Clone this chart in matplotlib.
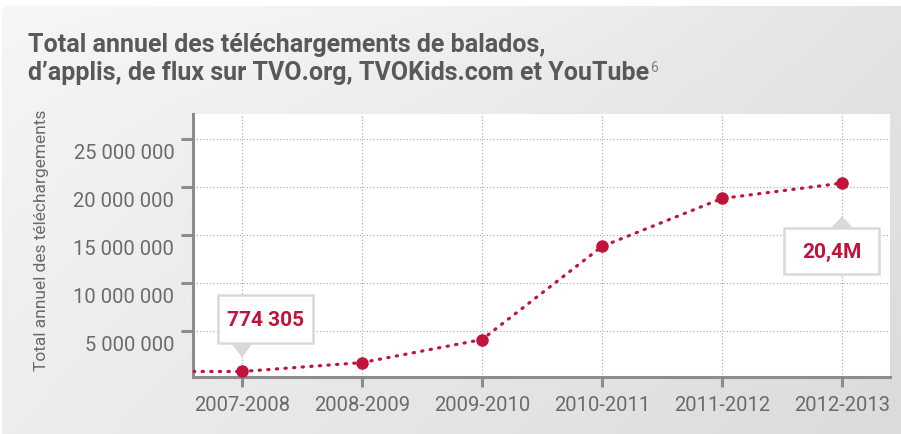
import numpy as np
import matplotlib.pyplot as plt
from matplotlib import transforms
from matplotlib.patches import Polygon, Rectangle, FancyBboxPatch


periods = [
    "2007-2008",
    "2008-2009",
    "2009-2010",
    "2010-2011",
    "2011-2012",
    "2012-2013",
]

downloads = [
    774305,
    1700000,
    4100000,
    13800000,
    18800000,
    20400000,
]

y_ticks = [5000000, 10000000, 15000000, 20000000, 25000000]

y_tick_labels = [
    "5 000 000",
    "10 000 000",
    "15 000 000",
    "20 000 000",
    "25 000 000",
]

first_label = "774 305"
last_label = "20,4M"

title_lines = [
    "Total annuel des téléchargements de balados,",
    "d’applis, de flux sur TVO.org, TVOKids.com et YouTube",
]
title_note = "6"

y_label = "Total annuel des téléchargements"

output_file = "out.png"

red = "#c0143c"
axis_grey = "#8c8c8c"
text_grey = "#6a6a6a"
title_grey = "#58595b"
box_grey = "#d9d9d9"

W, H = 901, 435


def px_x(x):
    return x / W


def px_y(y):
    return 1 - y / H


def callout(fig, ax, x, y, text, box, tip):
    '''
    draw a white label box with a small grey pointer, offsets in pixels
    relative to the data point (x, y), y upward
    '''
    trans = fig.dpi_scale_trans + transforms.ScaledTranslation(
        x, y, ax.transData
    )

    x0, x1, y0, y1 = [v / 100 for v in box]
    base_y, apex_y, half = [v / 100 for v in tip]

    ax.add_patch(
        Polygon(
            [(-half, base_y), (half, base_y), (0, apex_y)],
            closed=True,
            facecolor=box_grey,
            edgecolor="none",
            transform=trans,
            clip_on=False,
            zorder=5,
        )
    )

    ax.add_patch(
        Rectangle(
            (x0, y0),
            x1 - x0,
            y1 - y0,
            facecolor="white",
            edgecolor=box_grey,
            linewidth=1.8,
            transform=trans,
            clip_on=False,
            zorder=6,
        )
    )

    ax.text(
        (x0 + x1) / 2,
        (y0 + y1) / 2,
        text,
        transform=trans,
        ha="center",
        va="center",
        fontsize=15,
        fontweight="bold",
        color=red,
        family="Roboto",
        zorder=7,
    )


def main():

    fig = plt.figure(figsize=(W / 100, H / 100), dpi=100)

    # grey gradient panel behind everything
    bg = fig.add_axes([0, 0, 1, 1], zorder=-1)
    bg.set_xlim(0, W)
    bg.set_ylim(H, 0)
    bg.axis("off")

    gx, gy = np.meshgrid(np.linspace(0, 1, 300), np.linspace(0, 1, 150))
    shade = 0.96 - 0.07 * gx - 0.03 * gy + 0.02 * np.exp(-((gx - 0.45) ** 2) * 6 - gy * 4)
    gradient = np.dstack([shade, shade, shade * 1.005])
    gradient = np.clip(gradient, 0, 1)

    img = bg.imshow(
        gradient,
        extent=(2, W, H, 7),
        origin="upper",
        aspect="auto",
        interpolation="bilinear",
    )

    panel = FancyBboxPatch(
        (2, 7),
        W + 10,
        H,
        boxstyle="round,pad=0,rounding_size=7",
        facecolor="none",
        edgecolor="none",
        transform=bg.transData,
    )
    bg.add_patch(panel)
    img.set_clip_path(panel)

    # chart area
    ax = fig.add_axes(
        [px_x(193), px_y(378), px_x(890 - 193), (378 - 115) / H]
    )
    ax.set_facecolor("white")

    x_pos = np.arange(len(periods))

    ax.set_xlim(-0.408, 5.4)
    ax.set_ylim(0.2e6, 27.6e6)

    for side in ["top", "right"]:
        ax.spines[side].set_visible(False)

    for side in ["left", "bottom"]:
        ax.spines[side].set_color(axis_grey)
        ax.spines[side].set_linewidth(2.2)

    ax.set_xticks(x_pos)
    ax.set_xticklabels(periods)
    ax.set_yticks(y_ticks)
    ax.set_yticklabels(y_tick_labels)

    ax.tick_params(
        axis="x",
        direction="out",
        length=7.5,
        width=2.2,
        color=axis_grey,
        pad=5.5,
        labelsize=14.5,
        labelcolor=text_grey,
    )
    ax.tick_params(
        axis="y",
        direction="out",
        length=8.5,
        width=2.2,
        color=axis_grey,
        pad=5,
        labelsize=14.5,
        labelcolor=text_grey,
    )

    for lab in ax.get_xticklabels() + ax.get_yticklabels():
        lab.set_family("Roboto")

    # y labels sit a little below their tick
    shift = transforms.ScaledTranslation(0, -0.12, fig.dpi_scale_trans)
    for lab in ax.get_yticklabels():
        lab.set_transform(lab.get_transform() + shift)

    ax.grid(
        True,
        color="#a5a5a5",
        linestyle=(0, (1, 2)),
        linewidth=0.8,
    )
    ax.set_axisbelow(True)

    dotted = dict(
        color=red,
        linewidth=2.3,
        linestyle=(0, (0.4, 2.3)),
        dash_capstyle="round",
        zorder=3,
    )

    # series continues flat in from the left edge
    ax.plot([ax.get_xlim()[0], x_pos[0]], [downloads[0], downloads[0]], **dotted)
    ax.plot(x_pos, downloads, **dotted)
    ax.plot(
        x_pos,
        downloads,
        linestyle="",
        marker="o",
        markersize=8,
        color=red,
        zorder=4,
        clip_on=False,
    )

    callout(
        fig, ax, x_pos[0], downloads[0], first_label,
        box=(-24, 71, 28, 76), tip=(29, 14, 11),
    )
    callout(
        fig, ax, x_pos[-1], downloads[-1], last_label,
        box=(-58, 37, -91, -45), tip=(-46, -33, 12),
    )

    # titles
    fig.text(
        px_x(28), px_y(52), title_lines[0],
        fontsize=18, fontweight="bold", color=title_grey,
        family="Roboto", va="baseline",
    )
    line2 = fig.text(
        px_x(28), px_y(80), title_lines[1],
        fontsize=18, fontweight="bold", color=title_grey,
        family="Roboto", va="baseline",
    )

    fig.canvas.draw()
    end_x = line2.get_window_extent().x1

    fig.text(
        (end_x + 1) / W, px_y(72), title_note,
        fontsize=10, color="#808080", family="Roboto", va="baseline",
    )

    fig.text(
        px_x(42), px_y(240), y_label,
        rotation=90, ha="center", va="center",
        fontsize=12.5, color=text_grey, family="Roboto",
    )

    fig.savefig(output_file, dpi=100)


if __name__ == "__main__":

    main()
